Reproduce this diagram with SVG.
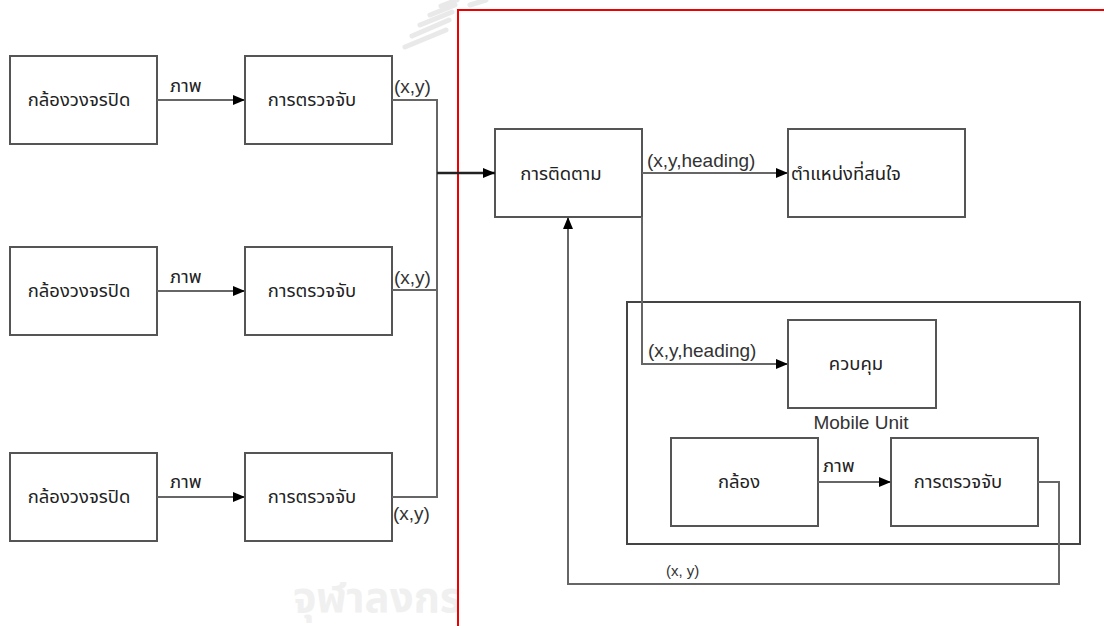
<svg xmlns="http://www.w3.org/2000/svg" width="1104" height="626" viewBox="0 0 1104 626">
<defs>
<style>
.box{fill:#fff;stroke:#555;stroke-width:2}
.ln{fill:none;stroke:#666;stroke-width:2}
.ln2{fill:none;stroke:#222;stroke-width:2.5}
.th{font-family:"Liberation Sans","Noto Sans Thai","Noto Sans",sans-serif;font-size:18.5px;fill:#222}
.lb{font-family:"Liberation Sans",Arial,sans-serif;font-size:19px;fill:#333}
.wm{font-family:"Liberation Sans","Noto Sans Thai",sans-serif;font-size:42px;font-weight:bold;fill:#e0e0e0}
</style>
<marker id="ah" viewBox="0 0 12 10" refX="12" refY="5" markerWidth="12" markerHeight="10" markerUnits="userSpaceOnUse" orient="auto">
<path d="M0,0 L12,5 L0,10 z" fill="#000"/>
</marker>
<clipPath id="wmclip"><rect x="0" y="0" width="457" height="626"/></clipPath>
</defs>
<rect width="1104" height="626" fill="#fff"/>
<g id="watermark" opacity="0.45">
<g stroke="#d0d0d0" stroke-width="5" stroke-linecap="round" fill="none">
<path d="M405,47 L446,30"/>
<path d="M412,36 L449,20"/>
<path d="M420,25 L452,12"/>
<path d="M430,15 L455,5"/>
<path d="M441,6 L457,0"/>
<path d="M470,5 L486,0"/>
</g>
<text class="wm" x="293" y="612" clip-path="url(#wmclip)">จุฬาลงกร</text>
</g>
<path d="M458,626 L458,10 L1104,10" fill="none" stroke="#e00" stroke-width="2"/>
<g id="n1"><rect class="box" x="10" y="56" width="147" height="88"/><text class="th" x="79" y="106" text-anchor="middle">กล้องวงจรปิด</text></g>
<g id="n2"><rect class="box" x="245" y="56" width="147" height="88"/><text class="th" x="312" y="106" text-anchor="middle">การตรวจจับ</text></g>
<g id="n3"><rect class="box" x="10" y="247" width="147" height="88"/><text class="th" x="79" y="297" text-anchor="middle">กล้องวงจรปิด</text></g>
<g id="n4"><rect class="box" x="245" y="247" width="147" height="88"/><text class="th" x="312" y="297" text-anchor="middle">การตรวจจับ</text></g>
<g id="n5"><rect class="box" x="10" y="453" width="147" height="88"/><text class="th" x="79" y="503" text-anchor="middle">กล้องวงจรปิด</text></g>
<g id="n6"><rect class="box" x="245" y="453" width="147" height="88"/><text class="th" x="312" y="503" text-anchor="middle">การตรวจจับ</text></g>
<g id="n7"><rect class="box" x="495" y="129" width="147" height="88"/><text class="th" x="561" y="180" text-anchor="middle">การติดตาม</text></g>
<g id="n8"><rect class="box" x="788" y="129" width="177" height="88"/><text class="th" x="791" y="180">ตำแหน่งที่สนใจ</text></g>
<g id="mobile"><rect x="627" y="302" width="453" height="242" fill="none" stroke="#444" stroke-width="2"/><text class="lb" x="861" y="429" text-anchor="middle">Mobile Unit</text></g>
<g id="n9"><rect class="box" x="788" y="320" width="148" height="88"/><text class="th" x="856" y="370" text-anchor="middle">ควบคุม</text></g>
<g id="n10"><rect class="box" x="671" y="438" width="147" height="88"/><text class="th" x="739" y="488" text-anchor="middle">กล้อง</text></g>
<g id="n11"><rect class="box" x="891" y="438" width="147" height="88"/><text class="th" x="958" y="488" text-anchor="middle">การตรวจจับ</text></g>
<g id="connectors">
<path class="ln" d="M157,100 L245,100" marker-end="url(#ah)"/>
<path class="ln" d="M157,291 L245,291" marker-end="url(#ah)"/>
<path class="ln" d="M157,497 L245,497" marker-end="url(#ah)"/>
<path class="ln" d="M392,100 L437,100 L437,497 L392,497"/>
<path class="ln" d="M392,290 L437,290"/>
<path class="ln2" d="M437,173 L495,173" marker-end="url(#ah)"/>
<path class="ln" d="M642,173 L788,173" marker-end="url(#ah)"/>
<path class="ln" d="M642,217 L642,364 L788,364" marker-end="url(#ah)"/>
<path class="ln" d="M818,482 L891,482" marker-end="url(#ah)"/>
<path class="ln" d="M1038,482 L1059,482 L1059,584 L568,584 L568,217" marker-end="url(#ah)"/>
<text class="th" x="170" y="92">ภาพ</text>
<text class="th" x="170" y="283">ภาพ</text>
<text class="th" x="170" y="488">ภาพ</text>
<text class="lb" x="394" y="93">(x,y)</text>
<text class="lb" x="394" y="284">(x,y)</text>
<text class="lb" x="393" y="520">(x,y)</text>
<text class="lb" x="647" y="167">(x,y,heading)</text>
<text class="lb" x="648" y="357">(x,y,heading)</text>
<text class="th" x="823" y="472">ภาพ</text>
<text class="lb" x="666" y="576" style="font-size:15px">(x, y)</text>
</g>
</svg>
